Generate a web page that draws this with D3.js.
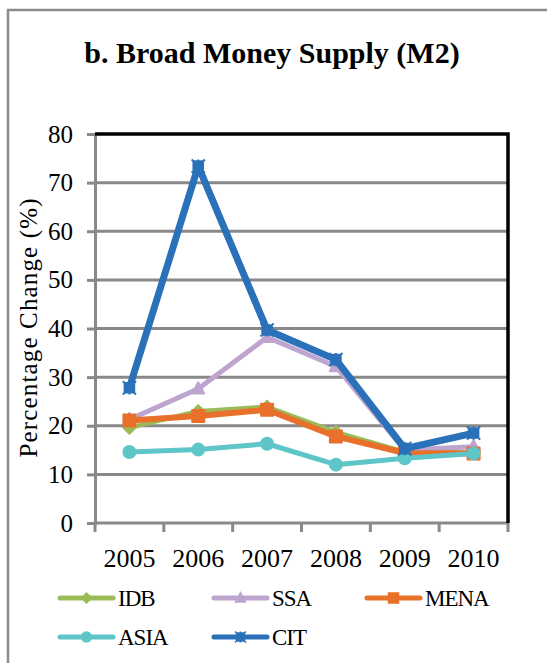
<!DOCTYPE html>
<html>
<head>
<meta charset="utf-8">
<script src="https://cdn.jsdelivr.net/npm/d3@7"></script>
<style>
  html, body { margin: 0; padding: 0; background: #fff; }
  svg { display: block; }
  svg text { font-family: 'Liberation Serif', 'Times New Roman', Times, 'DejaVu Serif', serif; }
</style>
</head>
<body>
<svg id="chart" width="547" height="663"></svg>
<script>
// Broad money supply (M2), annual percentage change by region group
const years = ["2005", "2006", "2007", "2008", "2009", "2010"];
const yTicks = [0, 10, 20, 30, 40, 50, 60, 70, 80];

const idb  = [19.6, 23.0, 23.9, 18.7, 14.6, 14.5];
const ssa  = [21.3, 27.6, 38.2, 32.2, 15.0, 15.7];
const mena = [21.1, 22.0, 23.3, 17.8, 14.4, 14.3];
const asia = [14.6, 15.1, 16.3, 12.0, 13.3, 14.3];
const cit  = [27.8, 73.4, 39.7, 33.6, 15.3, 18.5];

const seriesNames  = ["IDB", "SSA", "MENA", "ASIA", "CIT"];
const seriesValues = [idb, ssa, mena, asia, cit];
const seriesColors = ["#9BBB59", "#BDA5D0", "#E8702A", "#5EC6C8", "#2B71B9"];
const seriesMarkers = ["diamond", "triangle", "square", "circle", "star"];
const seriesWidths = [4.5, 5, 6, 5, 7];

const FONT = "'Liberation Serif', 'Times New Roman', Times, serif";
const svg = d3.select("#chart");

// chart frame
svg.append("rect").attr("x", 0).attr("y", 0).attr("width", 547).attr("height", 663).attr("fill", "#fff");
svg.append("path")
  .attr("d", "M8,663 V10 H547")
  .attr("fill", "none").attr("stroke", "#8c8c8c").attr("stroke-width", 2.5);

// title
svg.append("text")
  .attr("x", 272).attr("y", 63)
  .attr("text-anchor", "middle")
  .style("font-family", FONT)
  .attr("font-weight", "bold")
  .attr("font-size", 30)
  .attr("fill", "#000")
  .text("b. Broad Money Supply (M2)");

const plotLeft = 95, plotRight = 508, plotTop = 134, plotBottom = 523;

const x = d3.scaleBand().domain(years).range([plotLeft, plotRight]).padding(0);
const y = d3.scaleLinear().domain([0, 80]).range([plotBottom, plotTop]);
const cx = d => x(d) + x.bandwidth() / 2;

// horizontal gridlines
svg.append("g").selectAll("line")
  .data(yTicks.filter(t => t > 0 && t < 80))
  .join("line")
  .attr("x1", plotLeft).attr("x2", plotRight)
  .attr("y1", d => y(d)).attr("y2", d => y(d))
  .attr("stroke", "#898989").attr("stroke-width", 3);

// left axis
const yAxis = d3.axisLeft(y).tickValues(yTicks).tickSize(8).tickPadding(14).tickFormat(d3.format("d"));
const gy = svg.append("g").attr("transform", `translate(${plotLeft},0)`).call(yAxis);
gy.select(".domain").attr("stroke", "#898989").attr("stroke-width", 3);
gy.selectAll(".tick line").attr("stroke", "#898989").attr("stroke-width", 3);
gy.selectAll(".tick text").attr("font-size", 25).attr("fill", "#000").style("font-family", FONT);

// bottom axis with tick marks between categories
const gx = svg.append("g").attr("transform", `translate(0,${plotBottom})`);
gx.append("line").attr("x1", plotLeft - 1).attr("x2", plotRight).attr("y1", 0).attr("y2", 0)
  .attr("stroke", "#898989").attr("stroke-width", 3);
const edges = years.map(d => x(d)).concat([plotRight]);
gx.selectAll("line.edge").data(edges).join("line").attr("class", "edge")
  .attr("x1", d => d).attr("x2", d => d).attr("y1", 0).attr("y2", 9)
  .attr("stroke", "#898989").attr("stroke-width", 3);
gx.selectAll("text").data(years).join("text")
  .attr("x", d => cx(d)).attr("y", 44)
  .attr("text-anchor", "middle").attr("font-size", 26).attr("fill", "#000")
  .style("font-family", FONT)
  .text(d => d);

// black plot border on top and right
svg.append("path")
  .attr("d", `M${plotLeft},${plotTop} H${plotRight} V${plotBottom}`)
  .attr("fill", "none").attr("stroke", "#000").attr("stroke-width", 3.5);

// marker shapes
function markerPath(type, s) {
  switch (type) {
    case "diamond": return `M0,${-s} L${s},0 L0,${s} L${-s},0 Z`;
    case "triangle": return `M0,${-s * 1.1} L${s},${s * 0.8} L${-s},${s * 0.8} Z`;
    case "square": return `M${-s},${-s} H${s} V${s} H${-s} Z`;
    case "circle": return d3.symbol(d3.symbolCircle, Math.PI * s * s)();
    case "star": {
      const a = s * 0.8, b = s * 1.1;
      return `M${-a},${-a} H${a} V${a} H${-a} Z M${-b},${-b} L${b},${b} M${b},${-b} L${-b},${b} M0,${-b} V${b}`;
    }
  }
}

const line = d3.line().x((d, i) => cx(years[i])).y(d => y(d));

seriesValues.forEach((vals, si) => {
  const g = svg.append("g");
  g.append("path")
    .attr("d", line(vals))
    .attr("fill", "none")
    .attr("stroke", seriesColors[si])
    .attr("stroke-width", seriesWidths[si])
    .attr("stroke-linejoin", "round")
    .attr("stroke-linecap", "round");
  g.selectAll("path.m").data(vals).join("path").attr("class", "m")
    .attr("transform", (d, i) => `translate(${cx(years[i])},${y(d)})`)
    .attr("d", markerPath(seriesMarkers[si], 6))
    .attr("fill", seriesColors[si])
    .attr("stroke", seriesColors[si])
    .attr("stroke-width", 2)
    .attr("stroke-linejoin", "round");
});

// y axis title
svg.append("text")
  .attr("transform", "translate(37,328) rotate(-90)")
  .attr("text-anchor", "middle")
  .style("font-family", FONT)
  .attr("font-size", 25)
  .attr("fill", "#000")
  .attr("textLength", 259)
  .attr("lengthAdjust", "spacing")
  .text("Percentage Change (%)");

// legend
const legendPos = [
  [60, 598], [214, 598], [367, 598],
  [60, 637], [214, 637]
];
seriesNames.forEach((name, si) => {
  const [lx, ly] = legendPos[si];
  const g = svg.append("g").attr("transform", `translate(${lx},${ly})`);
  g.append("line").attr("x1", 0).attr("x2", 53).attr("y1", 0).attr("y2", 0)
    .attr("stroke", seriesColors[si]).attr("stroke-width", 5).attr("stroke-linecap", "round");
  g.append("path").attr("transform", "translate(26.5,0)")
    .attr("d", markerPath(seriesMarkers[si], 5))
    .attr("fill", seriesColors[si]).attr("stroke", seriesColors[si]).attr("stroke-width", 1.5);
  g.append("text").attr("x", 58).attr("y", 8)
    .style("font-family", FONT)
    .attr("font-size", 23).attr("letter-spacing", -1).attr("fill", "#000")
    .text(name);
});
</script>
</body>
</html>
